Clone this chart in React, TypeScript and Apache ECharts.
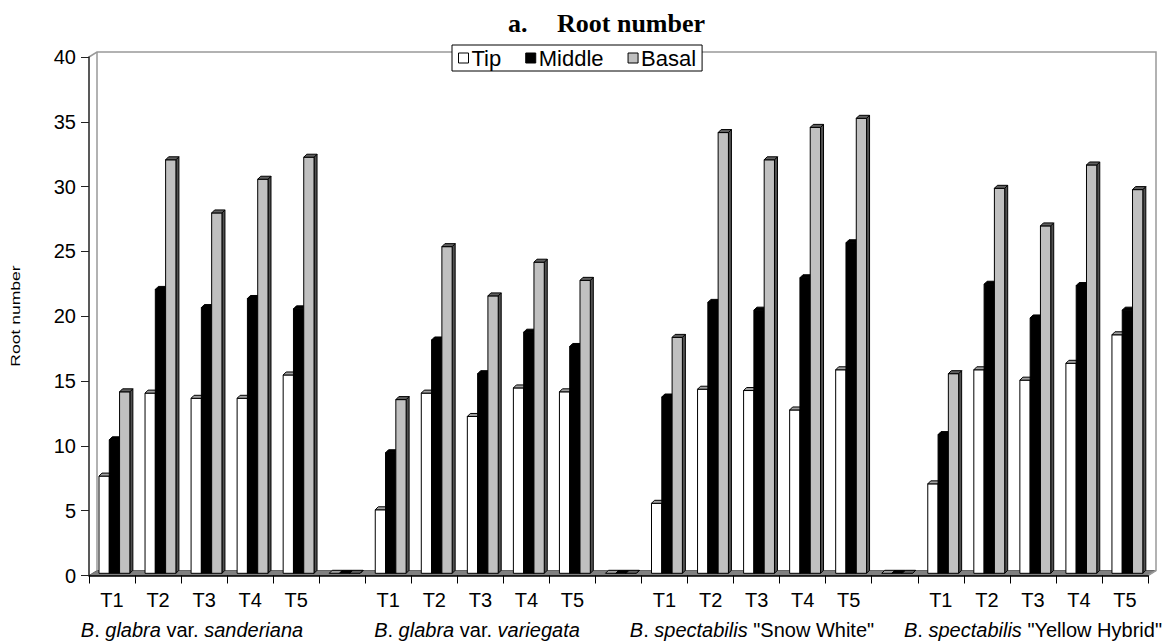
import { useEffect, useRef } from "react";
import * as echarts from "echarts";

// ---------- data ----------
const TREATMENTS = ["T1", "T2", "T3", "T4", "T5"];
const GROUP_LABELS = [
  "{i|B}. {i|glabra} var. {i|sanderiana}",
  "{i|B}. {i|glabra} var. {i|variegata}",
  '{i|B}. {i|spectabilis} "Snow White"',
  '{i|B}. {i|spectabilis} "Yellow Hybrid"',
];
const TIP = [
  [7.5, 13.9, 13.5, 13.5, 15.3],
  [4.9, 13.9, 12.1, 14.3, 14.0],
  [5.4, 14.2, 14.1, 12.6, 15.7],
  [6.9, 15.7, 14.9, 16.2, 18.4],
];
const MIDDLE = [
  [10.3, 21.9, 20.5, 21.2, 20.4],
  [9.3, 18.0, 15.4, 18.6, 17.5],
  [13.6, 20.9, 20.3, 22.8, 25.5],
  [10.7, 22.3, 19.7, 22.2, 20.3],
];
const BASAL = [
  [14.0, 31.9, 27.8, 30.4, 32.1],
  [13.4, 25.2, 21.4, 24.0, 22.6],
  [18.2, 34.0, 31.9, 34.4, 35.1],
  [15.4, 29.7, 26.8, 31.5, 29.6],
];
const Y_MIN = 0;
const Y_MAX = 40;
const Y_INTERVAL = 5;
const TITLE_PREFIX = "a.";
const TITLE = "Root number";
const Y_NAME = "Root number";

// ---------- layout / style ----------
const W = 1169;
const H = 642;
const GRID = { left: 89, right: 21, top: 57, bottom: 66.5 };
const WALL_DX = 8;
const WALL_DY = 5;
const BAR_DEPTH = 3;
const BAR_LIFT = 2.2;
const SANS = "'Liberation Sans', Arial, sans-serif";
const SERIF = "'Liberation Serif', 'Times New Roman', serif";
const GROUP_LABEL_X = [192, 477, 752, 1033];

const SERIES_STYLE = [
  { name: "Tip", data: TIP, color: "#ffffff", top: "#a0a0a0", side: "#808080" },
  { name: "Middle", data: MIDDLE, color: "#000000", top: "#000000", side: "#000000" },
  { name: "Basal", data: BASAL, color: "#c0c0c0", top: "#606060", side: "#505050" },
];

// categories: 5 treatments per group with an empty slot between groups
const categories: string[] = [];
GROUP_LABELS.forEach((_, g) => {
  TREATMENTS.forEach((t) => categories.push(t));
  if (g < GROUP_LABELS.length - 1) categories.push("");
});

function buildSeriesData(groups: number[][]): [number, number][] {
  const out: [number, number][] = [];
  let idx = 0;
  groups.forEach((vals, g) => {
    vals.forEach((v) => out.push([idx++, v]));
    if (g < groups.length - 1) out.push([idx++, 0]);
  });
  return out;
}

export default function App() {
  const ref = useRef<HTMLDivElement>(null);
  useEffect(() => {
    if (!ref.current) return;
    const chart = echarts.init(ref.current, null, { renderer: "svg" });

    const L = GRID.left;
    const R = W - GRID.right;
    const T = GRID.top;
    const B = H - GRID.bottom;

    const series = SERIES_STYLE.map((s, sIdx) => ({
      name: s.name,
      type: "custom",
      coordinateSystem: "cartesian2d",
      encode: { x: 0, y: 1 },
      itemStyle: { color: s.color, borderColor: "#000", borderWidth: 1 },
      data: buildSeriesData(s.data),
      z: 3,
      renderItem: (_params: any, api: any) => {
        const i = api.value(0) as number;
        const v = api.value(1) as number;
        const p = api.coord([i, v]);
        const p0 = api.coord([i, 0]);
        const bw = api.size([1, 0])[0];
        const barW = bw * 0.2235;
        const x0 = p[0] - bw / 2 + bw * 0.217 + sIdx * barW;
        const yT = p[1] - BAR_LIFT;
        const yB = p0[1] - BAR_LIFT;
        const d = BAR_DEPTH;
        const children: any[] = [];
        children.push({
          type: "polygon",
          shape: { points: [[x0 + barW, yT], [x0 + barW + d, yT - d], [x0 + barW + d, yB - d], [x0 + barW, yB]] },
          style: { fill: s.side, stroke: "#000", lineWidth: 1 },
        });
        if (yB - yT > 0.5) {
          children.push({
            type: "rect",
            shape: { x: x0, y: yT, width: barW, height: yB - yT },
            style: { fill: s.color, stroke: "#000", lineWidth: 1 },
          });
        }
        children.push({
          type: "polygon",
          shape: { points: [[x0, yT], [x0 + d, yT - d], [x0 + barW + d, yT - d], [x0 + barW, yT]] },
          style: { fill: s.top, stroke: "#000", lineWidth: 1 },
        });
        return { type: "group", children };
      },
    }));

    const graphic: any[] = [
      // floor
      {
        type: "polygon",
        z: 0,
        shape: { points: [[L, B], [L + WALL_DX, B - WALL_DY], [R + WALL_DX, B - WALL_DY], [R, B]] },
        style: { fill: "#808080", stroke: "#666", lineWidth: 1 },
      },
      // back wall outline
      {
        type: "polyline",
        z: 0,
        shape: { points: [[L, T], [L + WALL_DX, T - WALL_DY], [R + WALL_DX, T - WALL_DY], [R + WALL_DX, B - WALL_DY], [R, B]] },
        style: { fill: null, stroke: "#999", lineWidth: 1.5 },
      },
      {
        type: "line",
        z: 0,
        shape: { x1: L + WALL_DX, y1: T - WALL_DY, x2: L + WALL_DX, y2: B - WALL_DY },
        style: { stroke: "#999", lineWidth: 1.5 },
      },
      // title
      {
        type: "text",
        z: 5,
        x: 508,
        y: 23,
        style: { text: TITLE_PREFIX, font: `bold 26px ${SERIF}`, fill: "#000", verticalAlign: "middle", align: "left" },
      },
      {
        type: "text",
        z: 5,
        x: 557,
        y: 23,
        style: { text: TITLE, font: `bold 26px ${SERIF}`, fill: "#000", verticalAlign: "middle", align: "left" },
      },
      // y axis name
      {
        type: "text",
        z: 5,
        x: 15,
        y: 316,
        rotation: Math.PI / 2,
        scaleX: 1.35,
        style: { text: Y_NAME, font: `13px ${SANS}`, fill: "#000", align: "center", verticalAlign: "middle" },
      },
      // group labels
      ...GROUP_LABELS.map((g, k) => ({
        type: "text",
        z: 5,
        x: GROUP_LABEL_X[k],
        y: 630,
        style: {
          text: g,
          fontFamily: SANS,
          fontSize: 20,
          fill: "#000",
          align: "center",
          verticalAlign: "middle",
          rich: {
            i: { fontFamily: SANS, fontSize: 20, fontStyle: "italic", fill: "#000" },
          },
        },
      })),
    ];

    chart.setOption({
      animation: false,
      backgroundColor: "#ffffff",
      grid: { left: GRID.left, right: GRID.right, top: GRID.top, bottom: GRID.bottom, containLabel: false },
      legend: {
        data: SERIES_STYLE.map((s) => s.name),
        left: 452,
        top: 45,
        icon: "rect",
        itemWidth: 10,
        itemHeight: 10,
        itemGap: 24,
        padding: [2, 6],
        borderColor: "#000",
        borderWidth: 1,
        backgroundColor: "#fff",
        itemStyle: { borderColor: "#000", borderWidth: 1 },
        textStyle: { fontFamily: SANS, fontSize: 22, color: "#000", padding: [0, 0, 0, -2] },
        z: 10,
      },
      xAxis: {
        type: "category",
        data: categories,
        boundaryGap: true,
        axisLine: { show: true, lineStyle: { color: "#000", width: 1.5 } },
        axisTick: { show: true, length: 8, interval: 0, lineStyle: { color: "#000" } },
        axisLabel: { interval: 0, margin: 14, fontFamily: SANS, fontSize: 20, color: "#000" },
        splitLine: { show: false },
      },
      yAxis: {
        type: "value",
        min: Y_MIN,
        max: Y_MAX,
        interval: Y_INTERVAL,
        axisLine: { show: true, lineStyle: { color: "#222", width: 1.5 } },
        axisTick: { show: true, length: 8, lineStyle: { color: "#222" } },
        axisLabel: { margin: 13, fontFamily: SANS, fontSize: 20, color: "#000" },
        splitLine: { show: false },
      },
      graphic,
      series,
    } as any);

    return () => chart.dispose();
  }, []);

  return <div ref={ref} style={{ position: "fixed", left: 0, top: 0, width: W, height: H }} />;
}
